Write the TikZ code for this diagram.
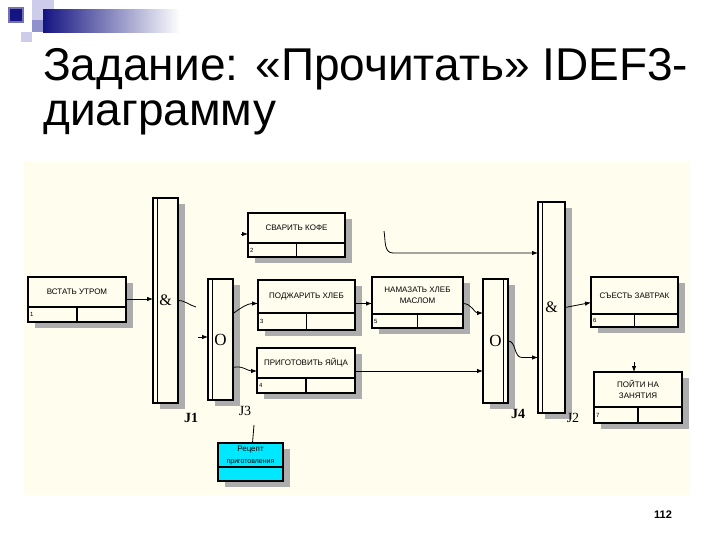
\documentclass[tikz,border=0pt]{standalone}
\usepackage{fontspec}
\setmainfont{Liberation Serif}
\newfontfamily\arialfont{Liberation Sans}
\usetikzlibrary{positioning,arrows.meta,shadows}

\definecolor{panelbg}{RGB}{255,254,238}
\definecolor{decnavy}{RGB}{20,20,130}
\definecolor{declav}{RGB}{205,205,235}
\definecolor{decperi}{RGB}{145,145,205}
\definecolor{reccyan}{RGB}{0,232,255}

\tikzset{
  shadebox/.style={drop shadow={shadow xshift=7pt,shadow yshift=-6pt,fill=black!32,opacity=1}},
  uob/.style={draw,line width=1.5pt,fill=panelbg,inner sep=1pt,outer sep=0pt,align=center,
    font=\arialfont\fontsize{8}{11}\selectfont,shadebox,
    path picture={\fill (path picture bounding box.north west) -- ++(5pt,0pt) -- ++(-5pt,-5pt) -- cycle;}},
  uobrow/.style={draw,line width=1.5pt,fill=panelbg,inner sep=0pt,outer sep=0pt,shadebox},
  numtext/.style={anchor=west,inner sep=2pt,font=\arialfont\fontsize{6}{6}\selectfont},
  junc/.style={draw,line width=1.6pt,fill=panelbg,minimum width=25pt,inner sep=0pt,outer sep=0pt,shadebox},
  jleft/.style={junc,path picture={\draw[line width=1pt] ([xshift=4.5pt]path picture bounding box.north west) -- ([xshift=4.5pt]path picture bounding box.south west);}},
  jright/.style={junc,path picture={\draw[line width=1pt] ([xshift=-4.5pt]path picture bounding box.north east) -- ([xshift=-4.5pt]path picture bounding box.south east);}},
  jlbl/.style={font=\fontsize{14}{14}\selectfont},
  conn/.style={line width=0.8pt},
  arr/.style={conn,-{Latex[length=6pt,width=4.5pt]}},
  divline/.style={line width=1.2pt}
}

\begin{document}
\begin{tikzpicture}[x=1pt,y=-1pt]
\useasboundingbox (0,0) rectangle (720,540);
\fill[white] (0,0) rectangle (720,540);

% template squares
\fill[declav] (32,0) rectangle (54,20);
\fill[left color=decnavy,right color=white] (43,10) rectangle (180,33);
\fill[decperi] (32,20) rectangle (43,32);
\fill[decnavy!60] (8,7) rectangle (24,23);
\fill[decnavy] (10,9) rectangle (22,21);
\fill[declav] (21,32) rectangle (32,42);

\node[anchor=base west,inner sep=0pt,font=\arialfont\fontsize{46}{46}\selectfont] (title1) at (43,81) {Задание: «Прочитать» IDEF3-};
\node[anchor=base west,inner sep=0pt,font=\arialfont\fontsize{46}{46}\selectfont] (title2) at (43,126) {диаграмму};

\fill[panelbg] (24,162) rectangle (690,495);

\node[uob,minimum width=98pt,minimum height=30pt] (vstat) at (77,292) {ВСТАТЬ УТРОМ};
\node[uobrow,minimum width=98pt,minimum height=15pt,below=0pt of vstat,label={[numtext]west:1}] (vstatrow) {};
\draw[divline] (vstatrow.north) -- (vstatrow.south);

\node[uob,minimum width=97pt,minimum height=30pt] (kofe) at (296.5,228) {СВАРИТЬ КОФЕ};
\node[uobrow,minimum width=97pt,minimum height=14pt,below=0pt of kofe,label={[numtext]west:2}] (koferow) {};
\draw[divline] (koferow.north) -- (koferow.south);

\node[uob,minimum width=97pt,minimum height=33pt] (hleb) at (306.5,296.5) {ПОДЖАРИТЬ ХЛЕБ};
\node[uobrow,minimum width=97pt,minimum height=17pt,below=0pt of hleb,label={[numtext]west:3}] (hlebrow) {};
\draw[divline] (hlebrow.north) -- (hlebrow.south);

\node[uob,minimum width=98pt,minimum height=30pt] (yaica) at (306,363) {ПРИГОТОВИТЬ ЯЙЦА};
\node[uobrow,minimum width=98pt,minimum height=15pt,below=0pt of yaica,label={[numtext]west:4}] (yaicarow) {};
\draw[divline] (yaicarow.north) -- (yaicarow.south);

\node[uob,minimum width=91pt,minimum height=37pt] (maslo) at (417.5,295.5) {НАМАЗАТЬ ХЛЕБ\\МАСЛОМ};
\node[uobrow,minimum width=91pt,minimum height=14pt,below=0pt of maslo,label={[numtext]west:5}] (maslorow) {};
\draw[divline] (maslorow.north) -- (maslorow.south);

\node[uob,minimum width=87pt,minimum height=37pt] (zavtrak) at (634.5,295.5) {СЪЕСТЬ ЗАВТРАК};
\node[uobrow,minimum width=87pt,minimum height=13pt,below=0pt of zavtrak,label={[numtext]west:6}] (zavtrakrow) {};
\draw[divline] (zavtrakrow.north) -- (zavtrakrow.south);

\node[uob,minimum width=88pt,minimum height=35pt] (zanyatiya) at (638,389.5) {ПОЙТИ НА\\ЗАНЯТИЯ};
\node[uobrow,minimum width=88pt,minimum height=16pt,below=0pt of zanyatiya,label={[numtext]west:7}] (zanyatiyarow) {};
\draw[divline] (zanyatiyarow.north) -- (zanyatiyarow.south);

\node[uob,path picture={},fill=reccyan,minimum width=65pt,minimum height=24pt,font=\arialfont\fontsize{7}{12}\selectfont] (recept) at (250.5,455) {{\fontsize{8}{8}\selectfont Рецепт}\\приготовления};
\node[uobrow,fill=reccyan,minimum width=65pt,minimum height=14pt,below=0pt of recept] (receptrow) {};

\node[jleft,minimum height=205pt,font=\fontsize{16}{16}\selectfont] (j1) at (165.5,300.5) {\&};
\node[jleft,minimum height=121pt,font=\fontsize{17}{17}\selectfont] (j3) at (220.5,339.5) {O};
\node[jright,minimum height=124pt,font=\fontsize{17}{17}\selectfont] (j4) at (495.5,341) {O};
\node[jleft,minimum width=27pt,minimum height=211pt,font=\fontsize{16}{16}\selectfont] (j2) at (551.5,307.5) {\&};

\node[jlbl,font=\fontsize{14}{14}\selectfont\bfseries] (j1lbl) at (191,418) {J1};
\node[jlbl] (j3lbl) at (245,411) {J3};
\node[jlbl,font=\fontsize{14}{14}\selectfont\bfseries] (j4lbl) at (518,414) {J4};
\node[jlbl] (j2lbl) at (573,418) {J2};

\coordinate (j1out) at (196,307);
\coordinate (j3in) at (198,337);
\coordinate (kofein) at (241,234);
\coordinate (kofeout) at (384,231);
\coordinate (zantop) at (634,362);
\coordinate (rectop) at (254,425);

\draw[arr] ([yshift=-7pt]vstat.east) -- ([yshift=-7pt]vstat.east -| j1.west);
\draw[conn] (j1.east) to[out=0,in=165] (j1out);
\draw[arr] (j3in) -- (j3in -| j3.west);
\draw[arr] (kofein) -- (kofein -| kofe.west);
\draw[arr] ([yshift=26pt]j3.east) to[out=35,in=180] ([yshift=-7pt]hleb.west);
\draw[arr] ([yshift=-28pt]j3.east) to[out=15,in=180] ([yshift=-8pt]yaica.west);
\draw[arr] ([yshift=-7pt]hleb.east) -- ([yshift=-7pt]hleb.east -| maslo.west);
\draw[arr] ([yshift=-8pt]yaica.east) -- ([yshift=-8pt]yaica.east -| j4.west);
\draw[arr] ([yshift=-8pt]maslo.east) to[out=0,in=180] ([yshift=28pt]j4.west);
\draw[arr] (j4.east) to[out=0,in=180] ([xshift=-16pt,yshift=-50pt]j2.west) -- ([yshift=-50pt]j2.west);
\draw[arr] (kofeout) to[out=-80,in=180] ([xshift=-145pt,yshift=54.5pt]j2.west) -- ([yshift=54.5pt]j2.west);
\draw[arr] (j2.east) -- ([yshift=-7pt]zavtrak.west);
\draw[arr] (zantop) -- (zantop |- zanyatiya.north);
\draw[conn] ([xshift=2pt]recept.north) -- (rectop);

\node[font=\arialfont\bfseries\fontsize{11}{11}\selectfont] (pagenum) at (663,515) {112};
\end{tikzpicture}
\end{document}
